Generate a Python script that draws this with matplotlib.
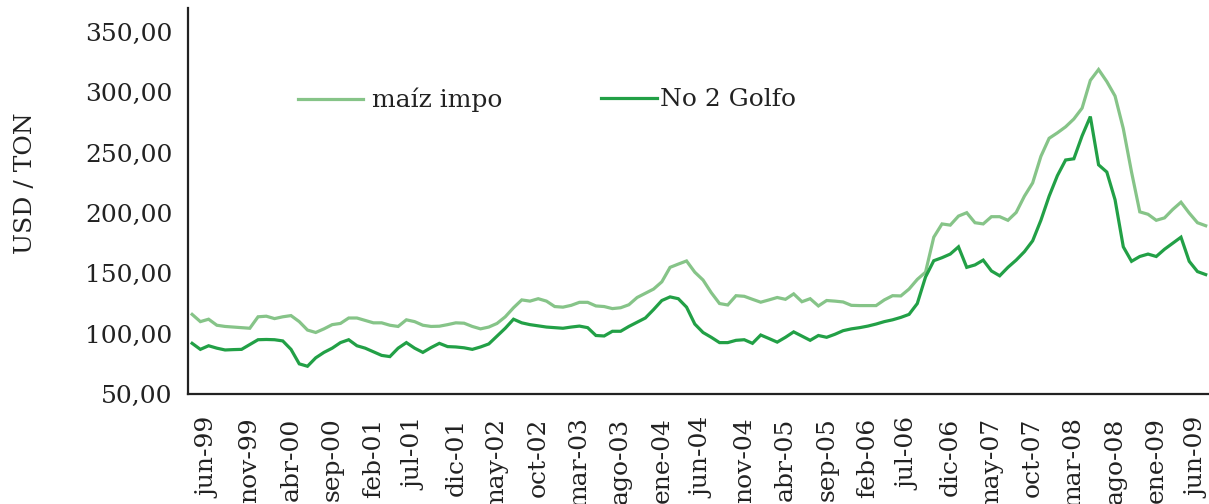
import matplotlib
matplotlib.use("Agg")
import matplotlib.pyplot as plt
from matplotlib.lines import Line2D
import numpy as np
import pandas as pd

# ---- data (monthly, abr-99 .. jul-09) ----
month_abbr = ["ene", "feb", "mar", "abr", "may", "jun", "jul", "ago", "sep", "oct", "nov", "dic"]
dates = pd.date_range("1999-04-01", "2009-07-01", freq="MS")
categories = [f"{month_abbr[d.month - 1]}-{d.year % 100:02d}" for d in dates]

maiz_impo = [
    116, 110, 112, 107, 106, 105.5, 105, 104.5, 114, 114.5,
    112.5, 114, 115, 110, 103, 101, 104, 107.5, 108.5, 113,
    113, 111, 109, 109, 107, 106, 111.5, 110, 107, 106,
    106.2, 107.5, 109, 108.7, 106, 104, 105.5, 108.5, 114, 121.5,
    128, 127, 129, 127, 122.5, 122, 123.5, 126, 126, 123,
    122.5, 120.8, 121.5, 124, 130, 133.5, 137, 143, 155, 157.7,
    160.3, 151, 144.5, 134, 125, 123.8, 131.5, 131, 128.5, 126.1,
    128, 130, 128.5, 133, 126.5, 129, 123, 127.5, 127, 126.3,
    123.5, 123.3, 123.3, 123.3, 128, 131.5, 131.3, 137, 145, 151,
    180, 191, 190, 197.5, 200.3, 192, 191, 197, 197, 194,
    200.5, 214, 225, 247, 262, 266.5, 271.5, 278, 287, 310,
    319, 309, 297, 270, 234, 201, 199, 194, 196, 203,
    209, 200, 192, 189.5,
]

no2_golfo = [
    92, 87, 90, 88, 86.5, 86.8, 87, 91, 95, 95.2,
    95, 94, 87, 75, 73, 80, 84.5, 88, 92.6, 95,
    90, 88, 85, 82, 81, 88, 92.6, 88, 84.5, 88.5,
    92, 89.3, 89, 88.3, 87, 89, 91.5, 98, 104.5, 112,
    109, 107.5, 106.5, 105.5, 105, 104.5, 105.5, 106.3, 105, 98.5,
    98.1, 102, 102, 106, 109.5, 113, 120, 127.5, 130.5, 129,
    122, 108, 101, 97, 92.6, 92.6, 94.5, 95, 92, 98.9,
    96, 93, 97, 101.5, 98, 94.5, 98.5, 97, 99.5, 102.5,
    104, 105, 106.3, 108, 110, 111.5, 113.5, 116, 125, 147,
    160.5, 163, 166, 172, 155, 157, 161, 152, 148, 155,
    161, 168, 177, 194, 214, 231, 244, 245, 264, 280,
    240, 234, 211, 172, 160, 164, 166, 164, 170, 175,
    180, 160, 151.5, 149,
]

series_names = ["maíz impo", "No 2 Golfo"]
y_ticks = [50, 100, 150, 200, 250, 300, 350]
tick_labels = categories[2::5]

# ---- style ----
c_light = "#86c488"
c_dark = "#22a046"
font = "DejaVu Serif"
plt.rcParams["font.family"] = [font, "DejaVu Sans"]

W, H = 1209, 504
fig = plt.figure(figsize=(W / 100, H / 100), dpi=100)
ax = fig.add_axes([188 / W, 1 - 394 / H, (W - 188) / W, (394 - 8) / H])

x = np.arange(len(categories))
l1, = ax.plot(x, maiz_impo, color=c_light, lw=2.3, solid_joinstyle="miter")
l2, = ax.plot(x, no2_golfo, color=c_dark, lw=2.3, solid_joinstyle="miter")

ax.set_xlim(-0.5, 123.4)
ax.set_ylim(50, 370)
ax.set_yticks(y_ticks)
ax.set_yticklabels([f"{v:.2f}".replace(".", ",") for v in y_ticks], fontsize=18, color="#222222")
ax.set_xticks(x[2::5])
ax.set_xticklabels(tick_labels, rotation=90, fontsize=18, color="#222222")
ax.tick_params(axis="y", length=0, pad=11)
ax.tick_params(axis="x", length=0, pad=17)

for s in ["top", "right"]:
    ax.spines[s].set_visible(False)
for s in ["left", "bottom"]:
    ax.spines[s].set_color("#222222")
    ax.spines[s].set_linewidth(1.6)

fig.text(25 / W, 1 - 183 / H, "USD / TON", rotation=90, ha="center", va="center",
         fontsize=18, color="#222222")

leg1 = ax.legend([l1], [series_names[0]], loc="center left",
                 bbox_to_anchor=(298 / W, 1 - 100 / H), bbox_transform=fig.transFigure,
                 frameon=False, fontsize=18, handlelength=2.6, handletextpad=0.36,
                 borderpad=0, borderaxespad=0)
ax.add_artist(leg1)
leg2 = ax.legend([l2], [series_names[1]], loc="center left",
                 bbox_to_anchor=(601 / W, 1 - 100 / H), bbox_transform=fig.transFigure,
                 frameon=False, fontsize=18, handlelength=2.24, handletextpad=0.12,
                 borderpad=0, borderaxespad=0)
for t in leg1.get_texts() + leg2.get_texts():
    t.set_color("#222222")

fig.savefig("out.png", dpi=100)
